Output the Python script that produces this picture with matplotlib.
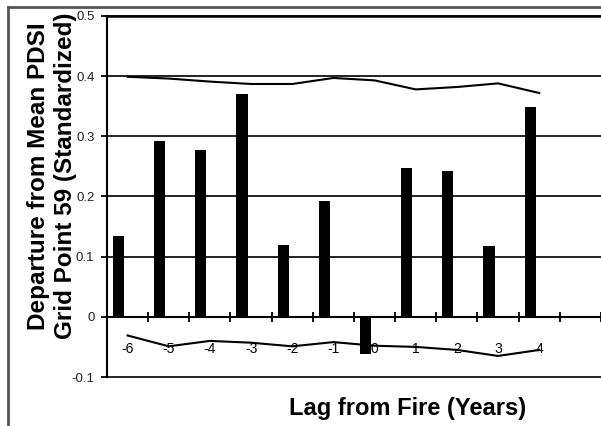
import matplotlib.pyplot as plt
import numpy as np
from matplotlib.lines import Line2D

plt.rcParams["font.family"] = ["Liberation Sans", "DejaVu Sans"]

# Lag from fire (years); the last slot on the axis is empty
lags = [-6, -5, -4, -3, -2, -1, 0, 1, 2, 3, 4]
n_slots = 12

# Departure from mean PDSI (bars)
departure = [0.134, 0.293, 0.278, 0.370, 0.120, 0.192, -0.062, 0.247, 0.242, 0.118, 0.348]

# Upper and lower confidence lines
upper = [0.399, 0.396, 0.391, 0.387, 0.387, 0.397, 0.393, 0.378, 0.382, 0.388, 0.372]
lower = [-0.031, -0.049, -0.040, -0.043, -0.049, -0.042, -0.048, -0.050, -0.055, -0.065, -0.055]

y_ticks = [-0.1, 0, 0.1, 0.2, 0.3, 0.4, 0.5]
y_tick_labels = ["-0.1", "0", "0.1", "0.2", "0.3", "0.4", "0.5"]


def main() -> None:
    fig = plt.figure(figsize=(6.01, 4.26), dpi=100)
    ax = fig.add_axes([107 / 601, 1 - 377 / 426, 1 - 107 / 601, (377 - 16) / 426])

    x = np.arange(len(lags))
    ax.bar(x - 0.22, departure, width=0.27, color="black", zorder=3)
    ax.plot(x, upper, color="black", lw=1.5, zorder=4)
    ax.plot(x, lower, color="black", lw=1.5, zorder=4)

    ax.set_xlim(-0.5, n_slots - 0.5)
    ax.set_ylim(-0.1, 0.5)

    ax.set_yticks(y_ticks)
    ax.set_yticklabels(y_tick_labels, fontsize=9.5, color="#222222")
    ax.yaxis.grid(True, color="#111111", lw=1.3)
    for gl in ax.get_ygridlines():
        gl.set_clip_on(False)
    ax.set_axisbelow(True)
    ax.tick_params(axis="y", direction="out", length=4, width=1.3, pad=5)

    ax.set_xticks(x)
    ax.set_xticklabels([str(v) for v in lags], fontsize=9.5, color="#222222")
    ax.set_xticks(np.arange(n_slots + 1) - 0.5, minor=True)
    ax.tick_params(axis="x", which="major", length=0, pad=18)
    ax.tick_params(axis="x", which="minor", direction="inout", length=7, width=1.3)

    ax.spines["bottom"].set_position(("data", 0))
    ax.spines["bottom"].set_linewidth(1.5)
    ax.spines["left"].set_linewidth(1.5)
    ax.spines["top"].set_linewidth(1.8)
    ax.spines["right"].set_visible(False)
    for side in ("bottom", "left", "top"):
        ax.spines[side].set_color("black")

    fig.text(52 / 601, 1 - 176 / 426,
             "Departure from Mean PDSI\nGrid Point 59 (Standardized)",
             rotation=90, ha="center", va="center", fontsize=17.5,
             fontweight="bold", linespacing=1.2, multialignment="center")
    fig.text(408 / 601, 1 - 408 / 426, "Lag from Fire (Years)",
             ha="center", va="center", fontsize=17, fontweight="bold")

    # outer frame of the chart (only left and top edges visible)
    fx, fy = 8 / 601, 1 - 7 / 426
    fig.add_artist(Line2D([fx, fx], [0, fy], transform=fig.transFigure,
                          color="#555555", lw=2))
    fig.add_artist(Line2D([fx, 1], [fy, fy], transform=fig.transFigure,
                          color="#555555", lw=2))

    fig.savefig("out.png", dpi=100)
    plt.close(fig)


if __name__ == "__main__":
    main()
